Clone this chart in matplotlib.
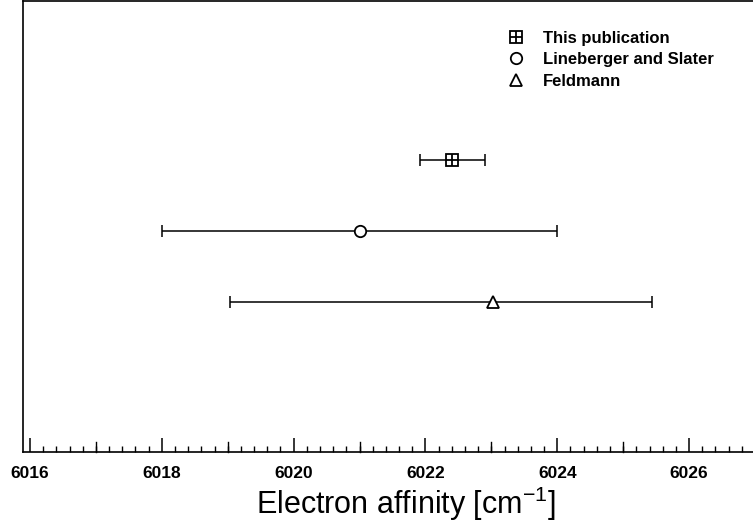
import numpy as np
import matplotlib
matplotlib.use("Agg")
import matplotlib.pyplot as plt
from matplotlib.ticker import MultipleLocator
from matplotlib.lines import Line2D

plt.rcParams['font.family'] = ['Liberation Sans', 'DejaVu Sans']

# ---- data ----
sources = ["This publication", "Lineberger and Slater", "Feldmann"]
affinity = [6022.41, 6021.0, 6023.03]
err_low = [0.5, 3.0, 4.0]
err_high = [0.5, 3.0, 2.4]
rows = [3, 2, 1]
markers = ["s", "o", "^"]

ms = 8.2

fig = plt.figure(figsize=(7.53, 5.26), dpi=100)
ax = fig.add_axes([23 / 753, 74 / 526, 765 / 753, 451 / 526])

for i in range(len(sources)):
    ax.errorbar(affinity[i], rows[i], xerr=[[err_low[i]], [err_high[i]]],
                fmt="none", ecolor="black", elinewidth=1.1, capsize=4,
                capthick=1.1, zorder=2)
    ax.plot(affinity[i], rows[i], marker=markers[i], markersize=ms,
            markerfacecolor="white", markeredgecolor="black",
            markeredgewidth=1.3, linestyle="none", zorder=3)
    if i == 0:
        ax.plot(affinity[i], rows[i], marker="+", markersize=ms,
                color="black", markeredgewidth=1.3, linestyle="none",
                zorder=4)

ax.set_xlim(6015.894, 6027.5)
ax.set_ylim(-1.11, 5.24)

ax.xaxis.set_major_locator(MultipleLocator(2))
ax.xaxis.set_minor_locator(MultipleLocator(0.2))
ax.tick_params(axis="x", which="major", direction="in", length=10,
               width=1.1, labelsize=12.5, pad=10)
ax.tick_params(axis="x", which="minor", direction="in", length=4.5,
               width=1.0)
for lab in ax.get_xticklabels():
    lab.set_fontweight("bold")

# slightly taller ticks on the odd integers
for v in np.arange(6017, 6028, 2):
    ax.plot([v, v], [0, 0.022], transform=ax.get_xaxis_transform(),
            color="black", lw=1.0, clip_on=False, zorder=1)

ax.set_yticks([])
for s in ["left", "top", "bottom", "right"]:
    ax.spines[s].set_linewidth(1.2)

ax.set_xlabel("Electron affinity [cm$^{\\mathregular{-1}}$]", fontsize=22,
              labelpad=3)

# legend
sq = Line2D([], [], marker="s", markersize=ms, markerfacecolor="white",
            markeredgecolor="black", markeredgewidth=1.3, linestyle="none")
pl = Line2D([], [], marker="+", markersize=ms, color="black",
            markeredgewidth=1.3, linestyle="none")
ci = Line2D([], [], marker="o", markersize=ms, markerfacecolor="white",
            markeredgecolor="black", markeredgewidth=1.3, linestyle="none")
tr = Line2D([], [], marker="^", markersize=ms, markerfacecolor="white",
            markeredgecolor="black", markeredgewidth=1.3, linestyle="none")
leg = ax.legend([(sq, pl), ci, tr], sources, loc="upper left",
                bbox_to_anchor=(0.612, 0.967), frameon=False,
                prop={"weight": "bold", "size": 12}, handlelength=1.2,
                handletextpad=1.0, labelspacing=0.38)

fig.savefig("out.png", dpi=100)
